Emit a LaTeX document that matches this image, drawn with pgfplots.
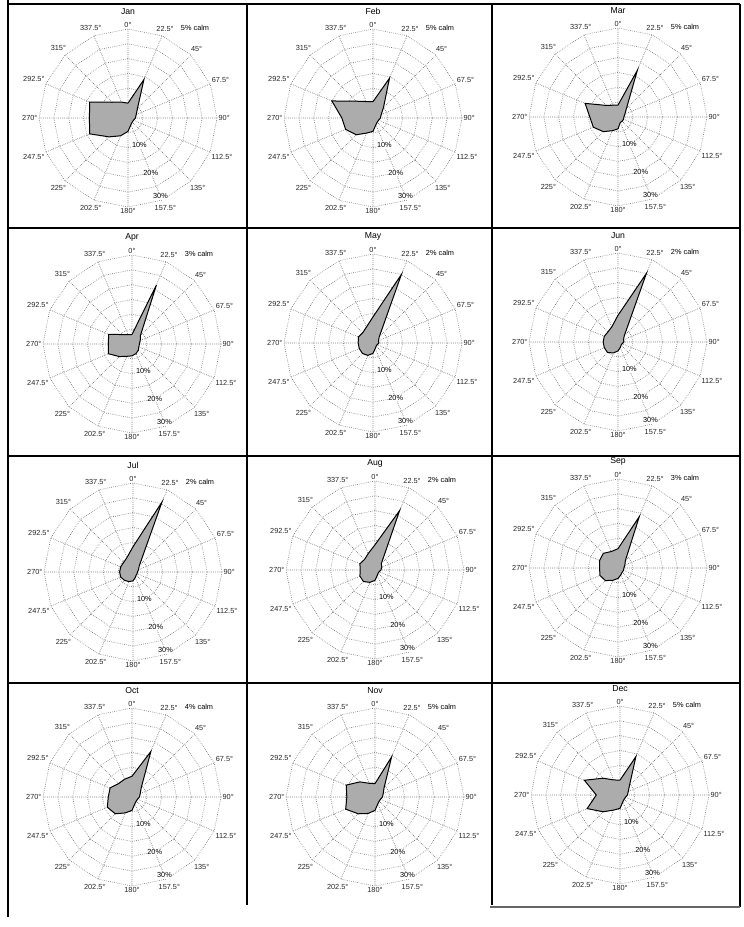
\documentclass[border=0pt]{standalone}
\usepackage{pgfplots}
\pgfplotsset{compat=1.18}
\usepackage{pgfplotstable}
\usepgfplotslibrary{polar}
\usepackage{fontspec}
\setmainfont{Liberation Sans}

% bearing (deg, clockwise from N) and frequency (%) per month
\pgfplotstableread{
b     jan  feb  mar  apr  may  jun  jul  aug  sep  oct  nov  dec
0     5.0  5.5  4.0  3.2  8.8  9.0  8.5  8.5  6.5  7.0  4.5  5.0
22.5  14.0 14.5 17.0 21.5 25.0 25.0 25.5 21.7 18.7 16.6 14.6 14.0
45    4.5  5.0  4.0  4.0  3.0  3.0  3.0  3.0  3.5  4.4  4.3  4.5
67.5  3.0  3.0  2.5  3.0  2.0  2.0  2.0  2.5  2.5  3.0  3.0  3.0
90    2.5  2.5  2.0  2.5  2.0  2.0  1.5  2.0  2.0  2.5  2.5  2.5
112.5 2.0  2.0  2.0  2.5  1.5  1.5  1.5  1.5  2.0  2.0  2.0  2.0
135   2.0  2.0  2.0  3.0  1.5  1.5  1.5  1.5  2.0  2.0  2.0  2.0
157.5 2.5  2.5  2.0  3.5  2.0  2.0  2.0  2.0  2.5  2.5  2.5  2.5
180   4.5  4.5  4.0  4.0  3.5  3.0  3.0  3.5  3.5  4.5  4.5  4.5
202.5 6.5  5.5  5.0  4.5  4.5  4.0  3.5  4.5  4.5  5.8  6.0  5.5
225   9.0  8.0  7.0  6.0  5.0  5.0  4.0  5.5  6.0  8.0  8.0  8.0
247.5 14.0 10.0 9.0  8.6  5.0  5.0  4.5  5.5  6.6  9.0  10.7 12.0
270   13.0 10.5 9.5  8.0  5.0  5.0  4.5  5.0  6.2  8.0  9.5  8.0
292.5 14.0 15.0 12.0 8.5  5.3  5.0  4.5  5.5  6.7  8.0  10.5 13.0
315   7.5  8.0  5.5  4.5  4.9  4.8  4.5  5.0  7.0  6.4  7.2  8.0
337.5 5.8  6.0  4.3  3.4  5.8  5.5  5.3  6.0  6.0  6.5  5.0  5.5
360   5.0  5.5  4.0  3.2  8.8  9.0  8.5  8.5  6.5  7.0  4.5  5.0
}\wind

% angles of the 16-gon grid rings (math angles)
\pgfplotstableread{
a     r
0     1
22.5  1
45    1
67.5  1
90    1
112.5 1
135   1
157.5 1
180   1
202.5 1
225   1
247.5 1
270   1
292.5 1
315   1
337.5 1
360   1
}\ringtab

\newcommand{\fs}{\fontsize{5.5}{6.5}\selectfont}

\newcommand{\rose}[5]{%
\begin{polaraxis}[
  at={(#1*0.75pt,#2*0.75pt)}, anchor=center,
  scale only axis, width=133.5pt, height=133.5pt,
  ymin=0, ymax=30, ytick=\empty,
  xtick={0,22.5,...,337.5},
  xticklabels={90°,67.5°,45°,22.5°,0°,337.5°,315°,292.5°,270°,247.5°,225°,202.5°,180°,157.5°,135°,112.5°},
  xticklabel style={font=\fs, inner sep=1pt, text=black!85},
  xmajorgrids, grid style={densely dotted, black!75, line width=0.45pt},
  major tick length=0pt,
  axis line style={draw=none},
  clip=false,
]
  \pgfplotsinvokeforeach{5,10,15,20,25,30}{%
    \addplot[densely dotted, black!60, line width=0.45pt, no markers] table[x=a, y expr={##1*\thisrow{r}}]{\ringtab};}
  \addplot[fill=gray!65, draw=black, line width=0.75pt, no markers]
    table[x expr={mod(450-\thisrow{b},360)}, y=#3]{\wind};
  \node[font=\fontsize{6.5}{7.5}\selectfont] at (axis cs:90,35.9) {#4};
  \node[font=\fs, inner sep=0.5pt, fill=white] at (axis cs:292.5,10) {10\%};
  \node[font=\fs, inner sep=0.5pt, fill=white] at (axis cs:292.5,20) {20\%};
  \node[font=\fs, inner sep=0.5pt, fill=white] at (axis cs:292.5,28.6) {30\%};
  \node[font=\fs, anchor=west, inner sep=0pt, xshift=14pt, yshift=6pt] at (axis cs:67.5,30) {#5\% calm};
\end{polaraxis}}

\begin{document}
\begin{tikzpicture}[x=0.75pt, y=0.75pt]
\useasboundingbox (0,0) rectangle (743,927);
% frame of cells
\draw[line width=2pt] (8,927) -- (8,10);
\draw[line width=1.2pt] (8,923) -- (740,923);
\draw[line width=1pt] (740,923) -- (740,20);
\draw[line width=1pt] (247,923) -- (247,22);
\draw[line width=1pt] (492,923) -- (492,22);
\draw[line width=1pt] (8,699) -- (740,699);
\draw[line width=1pt] (8,471) -- (740,471);
\draw[line width=1pt] (8,244) -- (740,244);
\draw[line width=0.8pt, black!60] (490,20) -- (740,20);

\rose{128}{809}{jan}{Jan}{5}
\rose{373}{809}{feb}{Feb}{5}
\rose{618}{810}{mar}{Mar}{5}
\rose{132}{583}{apr}{Apr}{3}
\rose{373}{584}{may}{May}{2}
\rose{618}{585}{jun}{Jun}{2}
\rose{133}{355}{jul}{Jul}{2}
\rose{375}{357}{aug}{Aug}{2}
\rose{618}{359}{sep}{Sep}{3}
\rose{132}{130}{oct}{Oct}{4}
\rose{375}{130}{nov}{Nov}{5}
\rose{620}{132}{dec}{Dec}{5}
\end{tikzpicture}
\end{document}
